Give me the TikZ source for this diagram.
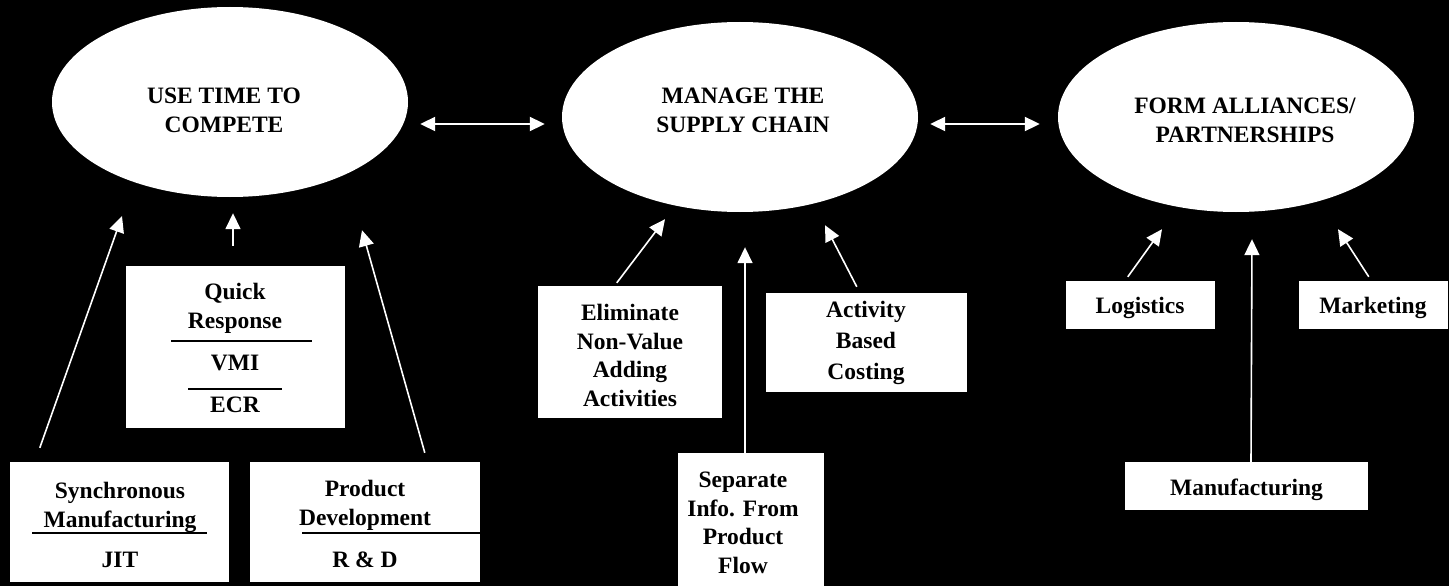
\documentclass[tikz,border=0pt]{standalone}
\usepackage{fontspec}
\setmainfont{Liberation Serif}
\usetikzlibrary{arrows.meta,shapes.geometric,calc}
\begin{document}
\begin{tikzpicture}[x=1pt,y=-1pt,
  txt/.style={font=\bfseries\fontsize{23.5}{28.5}\selectfont, align=center, inner sep=0pt, text=black},
  oval/.style={ellipse, fill=white, draw=none, minimum width=356pt, minimum height=190pt, inner sep=0pt},
  box/.style={fill=white, draw=none, inner sep=0pt},
  arr/.style={white, line width=1.6pt, -{Triangle[length=16pt,width=15pt]}},
  dbl/.style={white, line width=2pt, {Triangle[length=15pt,width=14pt]}-{Triangle[length=15pt,width=14pt]}},
  rule/.style={black, line width=2pt}]
\useasboundingbox (0,0) rectangle (1449,586);
\fill[black] (0,0) rectangle (1449,586);

% ellipses
\node[oval] (e1) at (230,102) {};
\node[txt, anchor=north] (e1t) at (224,88) {USE TIME TO\\COMPETE};
\node[oval] (e2) at (740,117) {};
\node[txt, anchor=north] (e2t) at (743,88) {MANAGE THE\\SUPPLY CHAIN};
\node[oval] (e3) at (1236,117) {};
\node[txt, anchor=north] (e3t) at (1245,98) {FORM ALLIANCES/\\PARTNERSHIPS};

\coordinate (ya) at (0,124);
\draw[dbl, shorten <=12pt, shorten >=17pt] (e1.east |- ya) -- (e2.west |- ya);
\draw[dbl, shorten <=12pt, shorten >=18pt] (e2.east |- ya) -- (e3.west |- ya);

% left group
\node[box, minimum width=219pt, minimum height=162pt] (qr) at (235.5,347) {};
\node[txt, anchor=north] (qrt) at (235,283) {Quick\\Response};
\draw[rule] (171,341) -- (312,341);
\node[txt, anchor=base] (vmi) at (235,370) {VMI};
\draw[rule] (188,389) -- (282,389);
\node[txt, anchor=base] (ecr) at (235,412) {ECR};

\node[box, minimum width=219pt, minimum height=120pt] (sync) at (119.5,522) {};
\node[txt, anchor=north] (synct) at (120,482) {Synchronous\\Manufacturing};
\draw[rule] (32,533) -- (207,533);
\node[txt, anchor=base] (jit) at (120,567) {JIT};

\node[box, minimum width=230pt, minimum height=120pt] (pd) at (365,522) {};
\node[txt, anchor=north] (pdt) at (365,480) {Product\\Development};
\draw[rule] (302,533) -- (480,533);
\node[txt, anchor=base] (rd) at (365,567) {R \& D};

% middle group
\node[box, minimum width=184pt, minimum height=132pt] (elim) at (630,352) {};
\node[txt, anchor=north] (elimt) at (630,304) {Eliminate\\Non-Value\\Adding\\Activities};

\node[box, minimum width=146pt, minimum height=133pt] (sep) at (751,519.5) {};
\node[txt, anchor=north] (sept) at (743,472) {Separate\\Info. From\\Product\\Flow};

\node[box, minimum width=201pt, minimum height=99pt] (abc) at (866.5,342.5) {};
\node[txt, font=\bfseries\fontsize{23.5}{31}\selectfont, anchor=north] (abct) at (866,301) {Activity\\Based\\Costing};

% right group
\node[box, minimum width=149pt, minimum height=48pt] (log) at (1140.5,305) {};
\node[txt, anchor=base] (logt) at (1140,313) {Logistics};
\node[box, minimum width=149pt, minimum height=48pt] (mkt) at (1373.5,305) {};
\node[txt, anchor=base] (mktt) at (1373,313) {Marketing};
\node[box, minimum width=243pt, minimum height=48pt] (man) at (1246.5,486) {};
\node[txt, anchor=base] (mant) at (1246.5,495) {Manufacturing};

% arrows
\draw[arr] ($(sync.north west)+(30,-14)$) -- ($(e1.south)+(-108,19)$);
\draw[arr] ($(qr.north)+(-2.5,-20)$) -- ($(e1.south)+(3,16)$);
\draw[arr] ($(pd.north west)+(175,-9)$) -- ($(e1.south)+(132,33)$);
\draw[arr] ($(elim.north west)+(79,-3)$) -- ($(e2.south)+(-75,7)$);
\draw[arr] ($(sep.north)+(-6,0)$) -- ($(e2.south)+(5,35)$);
\draw[arr] ($(abc.north west)+(91,-6)$) -- ($(e2.south)+(85,13)$);
\draw[arr] ($(log.north west)+(62,-4)$) -- ($(e3.south)+(-74,17)$);
\draw[arr] ($(man.north)+(4.5,0)$) -- ($(e3.south)+(16,27)$);
\draw[arr] ($(mkt.north west)+(70,-4)$) -- ($(e3.south)+(102,17)$);
\end{tikzpicture}
\end{document}
